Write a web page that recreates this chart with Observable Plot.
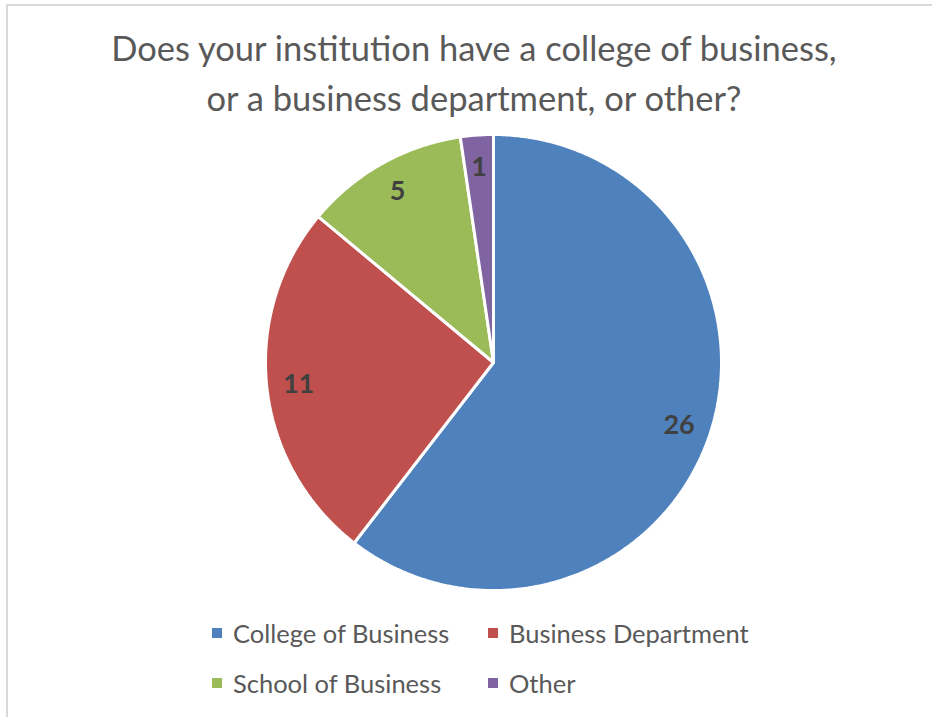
<!DOCTYPE html>
<html>
<head>
<meta charset="utf-8">
<script src="https://cdn.jsdelivr.net/npm/d3@7"></script>
<script src="https://cdn.jsdelivr.net/npm/@observablehq/plot@0.6"></script>
<style>
  html, body { margin: 0; padding: 0; background: #fff; }
  #chart { position: relative; width: 932px; height: 717px; overflow: hidden; font-family: Lato, "Open Sans", sans-serif; }
  #frame { position: absolute; left: 6px; top: 4px; width: 940px; height: 730px; border-left: 2px solid #d9d9d9; border-top: 2px solid #d9d9d9; box-sizing: border-box; }
  #title { position: absolute; left: 0; width: 948px; top: 23px; text-align: center; color: #595959; font-size: 34.5px; line-height: 50px; }
  #pie { position: absolute; left: 0; top: 127px; }
  #legend { position: absolute; left: 212px; top: 613px; width: 600px; }
  .item { position: absolute; display: flex; align-items: center; color: #595959; font-size: 25.5px; height: 40px; white-space: nowrap; }
  .sw { width: 10px; height: 10px; margin-right: 11px; }
</style>
</head>
<body>
<div id="chart">
  <div id="frame"></div>
  <div id="title"></div>
  <div id="pie"></div>
  <div id="legend"></div>
</div>
<script>
const titleLines = ["Does your institution have a college of business,", "or a business department, or other?"];
const categories = ["College of Business", "Business Department", "School of Business", "Other"];
const counts = [26, 11, 5, 1];
const colors = ["#4F81BD", "#C0504D", "#9BBB59", "#8064A2"];

document.getElementById("title").innerHTML = titleLines.join("<br>");

const data = categories.map((c, i) => ({category: c, value: counts[i]}));
const arcs = d3.pie().sort(null).value(d => d.value).startAngle(0).endAngle(2 * Math.PI)(data);

// Polygon outline of each slice (angle measured clockwise from 12 o'clock)
const outline = [];
for (const a of arcs) {
  const c = a.data.category;
  outline.push({category: c, x: 0, y: 0});
  const n = Math.max(2, Math.ceil((a.endAngle - a.startAngle) / 0.01));
  for (let k = 0; k <= n; k++) {
    const t = a.startAngle + (a.endAngle - a.startAngle) * k / n;
    outline.push({category: c, x: Math.sin(t), y: Math.cos(t)});
  }
}
const labelR = 0.86;
const labels = arcs.map(a => {
  const m = (a.startAngle + a.endAngle) / 2;
  return {category: a.data.category, value: a.data.value, x: labelR * Math.sin(m), y: labelR * Math.cos(m)};
});

const plot = Plot.plot({
  width: 932,
  height: 470,
  marginLeft: 265,
  marginRight: 211,
  marginTop: 7,
  marginBottom: 7,
  x: {domain: [-1, 1], axis: null},
  y: {domain: [-1, 1], axis: null},
  color: {domain: categories, range: colors},
  style: {background: "transparent", overflow: "visible"},
  marks: [
    Plot.line(outline, {x: "x", y: "y", z: "category", fill: "category", stroke: "white", strokeWidth: 3, strokeLinejoin: "miter", curve: "linear-closed"}),
    Plot.text(labels, {x: "x", y: "y", text: d => String(d.value), fill: "#404040", fontSize: 27, fontWeight: "bold", fontFamily: "Lato, 'Open Sans', sans-serif"})
  ]
});
document.getElementById("pie").appendChild(plot);

const legend = document.getElementById("legend");
categories.forEach((c, i) => {
  const el = document.createElement("div");
  el.className = "item";
  el.style.left = (i % 2) * 276 + "px";
  el.style.top = Math.floor(i / 2) * 50 + "px";
  el.innerHTML = `<div class="sw" style="background:${colors[i]}"></div><span>${c}</span>`;
  legend.appendChild(el);
});
</script>
</body>
</html>
